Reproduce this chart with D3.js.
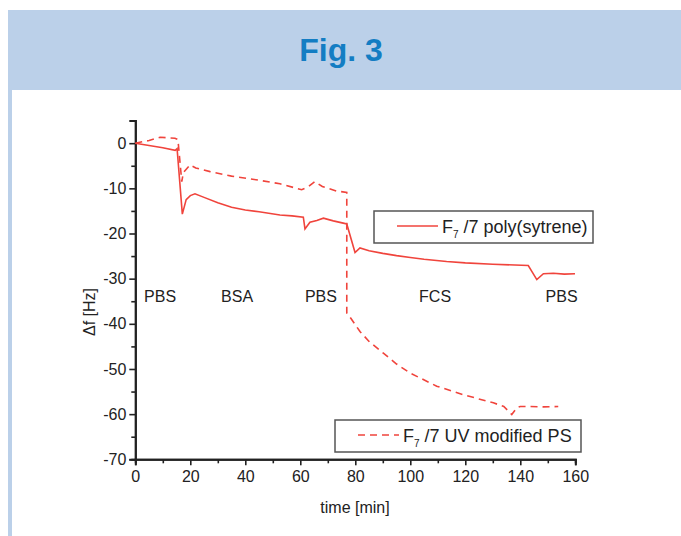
<!DOCTYPE html>
<html>
<head>
<meta charset="utf-8">
<script src="https://cdn.jsdelivr.net/npm/d3@7"></script>
<style>
body { margin: 0; background: #fff; }
text { font-family: "Liberation Sans", Arial, sans-serif; }
</style>
</head>
<body>
<svg id="chart" width="681" height="536"></svg>
<script>
// frequency shift data
var polyTime  = [0, 5, 10, 14.5, 15.2, 17.1, 18.5, 20, 21.7, 25, 30, 35, 40, 45, 52.6, 57, 61.1, 61.7, 63.5, 66, 68.4, 72, 75.6, 76.9, 79.9, 81.7, 85, 90, 95, 100, 105, 113.2, 120, 130, 142.9, 146, 148.4, 152, 156, 159.9];
var polyShift = [0, -0.5, -1.0, -1.6, -1.2, -15.7, -12.5, -11.6, -11.2, -12, -13.2, -14.2, -14.8, -15.2, -15.9, -16.1, -16.4, -19, -17.5, -17.1, -16.6, -17.2, -17.7, -17.9, -24.2, -23.2, -23.8, -24.4, -24.9, -25.3, -25.7, -26.2, -26.5, -26.8, -27.1, -30.2, -28.9, -28.8, -29.0, -28.9];

var uvTime  = [0, 5, 9, 14.4, 15.5, 16.9, 17.5, 19.9, 22, 27.2, 35, 45, 52.6, 60.5, 63, 65.3, 68, 73.2, 76.9, 76.9, 77.5, 81.7, 85, 90.2, 95, 99.9, 109.6, 119.3, 130.2, 134, 136.9, 138.7, 140, 143.5, 148.4, 153.8];
var uvShift = [0, 0.6, 1.3, 1.1, 0.8, -8.5, -6.5, -4.8, -5.5, -6.3, -7.3, -8.2, -9.0, -10.3, -9.6, -8.5, -9.6, -10.6, -10.9, -37.6, -38, -41.7, -43.9, -46.5, -48.9, -50.9, -53.8, -55.7, -57.5, -58.3, -60.1, -58.6, -58.3, -58.3, -58.4, -58.3];

var phaseNames = ['PBS', 'BSA', 'PBS', 'FCS', 'PBS'];
var phaseTime  = [9, 37, 67.5, 109, 155];

var xTicks = [0, 20, 40, 60, 80, 100, 120, 140, 160];
var yTicks = [0, -10, -20, -30, -40, -50, -60, -70];

var red = '#f0443c';
var svg = d3.select('#chart');

// header band
svg.append('rect').attr('x', 8).attr('y', 10).attr('width', 673).attr('height', 80).attr('fill', '#bbd0e9');
svg.append('rect').attr('x', 8).attr('y', 90).attr('width', 4).attr('height', 446).attr('fill', '#bbd0e9');
svg.append('text').attr('x', 341).attr('y', 61).attr('text-anchor', 'middle')
   .attr('font-size', 32).attr('font-weight', 'bold').attr('fill', '#137dc3').text('Fig. 3');

var x = d3.scaleLinear().domain([0, 160]).range([135.3, 575.3]);
var y = d3.scaleLinear().domain([-70, 5]).range([459.3, 120.6]);

// axes
var fmt = function(d) { return String(d); };
var xAxis = d3.axisBottom(x).tickValues(xTicks).tickSize(6).tickPadding(5).tickFormat(fmt);
var xMinor = d3.axisBottom(x).tickValues(d3.range(10, 160, 20)).tickSize(4).tickFormat('');
var yAxis = d3.axisLeft(y).tickValues(yTicks).tickSize(6).tickPadding(3).tickFormat(fmt);
var yMinor = d3.axisLeft(y).tickValues([5, -5, -15, -25, -35, -45, -55, -65]).tickSize(4).tickFormat('');

function styleAxis(g) {
  g.selectAll('path').attr('stroke', '#222').attr('stroke-width', 2);
  g.selectAll('line').attr('stroke', '#222').attr('stroke-width', 1.6);
  g.selectAll('text').attr('font-size', 16).attr('fill', '#222')
   .style('font-family', '"Liberation Sans", Arial, sans-serif');
}

svg.append('g').attr('transform', 'translate(0,' + y(-70) + ')').call(xMinor).call(styleAxis);
svg.append('g').attr('transform', 'translate(0,' + y(-70) + ')').call(xAxis).call(styleAxis);
svg.append('g').attr('transform', 'translate(' + x(0) + ',0)').call(yMinor).call(styleAxis);
svg.append('g').attr('transform', 'translate(' + x(0) + ',0)').call(yAxis).call(styleAxis);

svg.append('text').attr('x', 355).attr('y', 513).attr('text-anchor', 'middle')
   .attr('font-size', 16).attr('fill', '#222').text('time [min]');
svg.append('text').attr('transform', 'translate(95,312) rotate(-90)').attr('text-anchor', 'middle')
   .attr('font-size', 16).attr('fill', '#222').text('\u0394f [Hz]');

// phase labels
svg.selectAll('text.phase').data(phaseNames).enter().append('text')
   .attr('class', 'phase')
   .attr('x', function(d, i) { return x(phaseTime[i]); })
   .attr('y', 302)
   .attr('text-anchor', 'middle').attr('font-size', 16).attr('fill', '#222')
   .text(function(d) { return d; });

// lines
var line = d3.line().x(function(d) { return x(d[0]); }).y(function(d) { return y(d[1]); });

svg.append('path').datum(d3.zip(polyTime, polyShift))
   .attr('d', line).attr('fill', 'none').attr('stroke', red).attr('stroke-width', 1.6);
svg.append('path').datum(d3.zip(uvTime, uvShift))
   .attr('d', line).attr('fill', 'none').attr('stroke', red).attr('stroke-width', 1.6)
   .attr('stroke-dasharray', '7,5');

// legends
function legend(bx, by, bw, dashed, label) {
  var g = svg.append('g').attr('transform', 'translate(' + bx + ',' + by + ')');
  g.append('rect').attr('width', bw).attr('height', 32).attr('fill', '#fff')
   .attr('stroke', '#555').attr('stroke-width', 1.5);
  g.append('line').attr('x1', 23).attr('x2', 64).attr('y1', 15).attr('y2', 15)
   .attr('stroke', red).attr('stroke-width', 1.6).attr('stroke-dasharray', dashed ? '7,5' : null);
  var t = g.append('text').attr('x', 68).attr('y', 22).attr('font-size', 18).attr('fill', '#222');
  t.append('tspan').text('F');
  t.append('tspan').attr('font-size', 10).attr('dy', 5).text('7');
  t.append('tspan').attr('dy', -5).text(' /7 ' + label);
}
legend(374, 211, 219, false, 'poly(sytrene)');
legend(335, 420, 246, true, 'UV modified PS');
</script>
</body>
</html>
